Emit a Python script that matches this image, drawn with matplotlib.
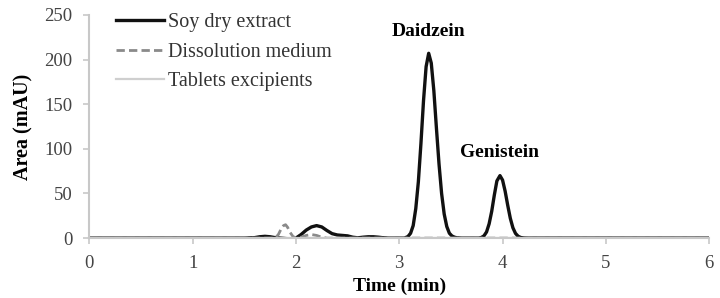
import matplotlib.pyplot as plt

plt.rcParams['font.family'] = ['Liberation Serif', 'DejaVu Serif']

# time axis (min) and signal (mAU)
soy_t = [0.0, 1.5, 1.6, 1.65, 1.7, 1.75, 1.8, 1.85, 1.9, 1.95, 2.0, 2.05, 2.1,
         2.15, 2.2, 2.25, 2.3, 2.35, 2.4, 2.45, 2.5, 2.55, 2.6, 2.65, 2.7, 2.75,
         2.8, 2.85, 2.9, 3.05, 3.085, 3.11, 3.135, 3.16, 3.185, 3.21, 3.235,
         3.26, 3.285, 3.31, 3.335, 3.36, 3.385, 3.41, 3.435, 3.46, 3.485, 3.51,
         3.535, 3.56, 3.6, 3.77, 3.795, 3.82, 3.845, 3.87, 3.895, 3.92, 3.945,
         3.975, 4.0, 4.025, 4.05, 4.075, 4.1, 4.125, 4.15, 4.175, 4.2, 4.25, 6.0]
soy_v = [0, 0, 0.5, 1.5, 2, 1.5, 0.5, 0, -0.5, -1, 0, 4, 9,
         12.5, 14, 12.5, 8.5, 5, 3.5, 3, 2.5, 1, 0.3, 1, 1.5, 1.5,
         1, 0.3, 0, 0, 1.8, 5.5, 14, 33, 63, 106, 154,
         192, 207, 196, 165, 123, 83, 50, 27, 13, 5.5, 2.4,
         1, 0.3, 0, 0, 0.7, 2.5, 6.9, 16, 30, 48, 64,
         70, 65, 52.5, 36.7, 22.2, 11.6, 5.3, 2.1, 0.7, 0.2, 0, 0]

medium_t = [0.0, 1.8, 1.83, 1.86, 1.88, 1.9, 1.92, 1.94, 1.97, 2.0, 2.05, 2.1,
            2.15, 2.2, 2.25, 2.3, 6.0]
medium_v = [0, 0, 4, 11, 14, 15, 12, 7, 2, 0, 1, 3,
            4, 3, 1, 0, 0]

excip_t = [0.0, 6.0]
excip_v = [0, 0]

fig, ax = plt.subplots(figsize=(7.2, 2.98), dpi=100)
fig.subplots_adjust(left=0.124, right=0.985, bottom=0.201, top=0.95)

ax.plot(soy_t, soy_v, color='#111111', lw=2.4, label='Soy dry extract')
ax.plot(medium_t, medium_v, color='#8a8a8a', lw=2, ls=(0, (3, 1.5)),
        label='Dissolution medium')
ax.plot(excip_t, excip_v, color='#cfcfcf', lw=1.6, label='Tablets excipients')

ax.set_xlim(0, 6)
ax.set_ylim(0, 250)
ax.set_xticks(range(7))
ax.set_yticks(range(0, 251, 50))

for s in ['top', 'right']:
    ax.spines[s].set_visible(False)
for s in ['left', 'bottom']:
    ax.spines[s].set_color('#c8c8c8')
    ax.spines[s].set_linewidth(1.5)
ax.tick_params(colors='#c8c8c8', labelcolor='#444444', labelsize=13.5,
               length=4, width=1.2)
ax.tick_params(axis='x', pad=8)
ax.tick_params(axis='y', pad=8)

ax.set_xlabel('Time (min)', fontsize=14, fontweight='bold', labelpad=4)
ax.set_ylabel('Area (mAU)', fontsize=14.5, fontweight='bold', labelpad=8)

ax.text(3.285, 231, 'Daidzein', ha='center', va='center', fontsize=14,
        fontweight='bold')
ax.text(3.97, 96, 'Genistein', ha='center', va='center', fontsize=14,
        fontweight='bold')

ax.legend(loc='upper left', bbox_to_anchor=(0.014, 1.088), frameon=False,
          fontsize=14.5, handlelength=2.4, handletextpad=0.2, labelspacing=0.5,
          labelcolor='#333333')

fig.savefig('out.png')
